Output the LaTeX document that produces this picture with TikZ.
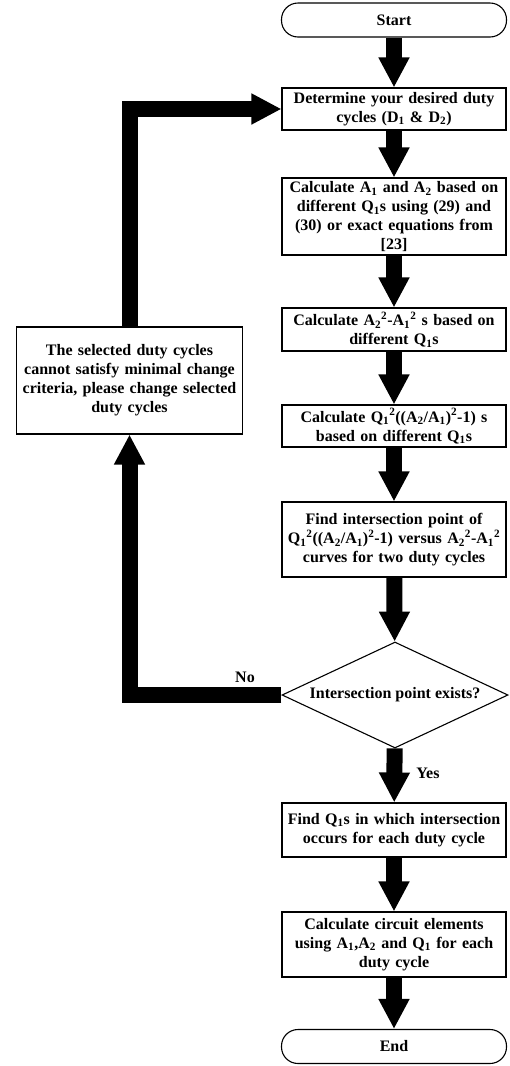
\documentclass[tikz,border=0pt]{standalone}
\usepackage{fontspec}
\setmainfont{Liberation Serif}
\usetikzlibrary{arrows.meta,shapes.geometric}
\begin{document}
\begin{tikzpicture}[x=1pt,y=-1pt,
  every node/.style={font=\bfseries\fontsize{16}{19}\selectfont},
  box/.style={draw,line width=1.1pt,minimum width=224pt,text width=222pt,align=center,inner sep=1pt},
  term/.style={draw,line width=1.1pt,rounded corners=16.5pt,minimum width=225pt,minimum height=34pt,align=center},
  bigarrow/.style={line width=16pt,line join=miter,-{Triangle[length=30pt,width=29pt]}},
  lbl/.style={inner sep=0pt}]
\useasboundingbox (0,0) rectangle (510,1066);
\node[term] (start) at (394,20) {Start};
\node[box,minimum height=42pt] (det) at (394,109) {Determine your desired duty\\cycles (D\textsubscript{1} \& D\textsubscript{2})};
\node[box,minimum height=77pt] (calc1) at (394,216.5) {Calculate A\textsubscript{1} and A\textsubscript{2} based on\\different Q\textsubscript{1}s using (29) and\\(30) or exact equations from\\{[}23{]}};
\node[box,minimum height=43pt] (calc2) at (394,329.5) {Calculate A\textsubscript{2}\textsuperscript{2}-A\textsubscript{1}\textsuperscript{2} s based on\\different Q\textsubscript{1}s};
\node[box,minimum height=42pt] (calc3) at (394,426) {Calculate Q\textsubscript{1}\textsuperscript{2}((A\textsubscript{2}/A\textsubscript{1})\textsuperscript{2}-1) s\\based on different Q\textsubscript{1}s};
\node[box,minimum height=75pt] (find1) at (394,539.5) {Find intersection point of\\Q\textsubscript{1}\textsuperscript{2}((A\textsubscript{2}/A\textsubscript{1})\textsuperscript{2}-1) versus A\textsubscript{2}\textsuperscript{2}-A\textsubscript{1}\textsuperscript{2}\\curves for two duty cycles};
\node[diamond,draw,line width=1.1pt,minimum width=226pt,minimum height=106pt,inner sep=0pt,
  label={center:Intersection point exists?}] (dia) at (395,695) {};
\node[box,minimum height=54pt] (find2) at (394,830) {Find Q\textsubscript{1}s in which intersection\\occurs for each duty cycle};
\node[box,minimum height=65pt] (calc4) at (394,944.5) {Calculate circuit elements\\using A\textsubscript{1},A\textsubscript{2} and Q\textsubscript{1} for each\\duty cycle};
\node[term] (end) at (394,1046.5) {End};
\node[box,minimum width=226pt,minimum height=107pt] (left) at (129.5,380.5) {The selected duty cycles\\cannot satisfy minimal change\\criteria, please change selected\\duty cycles};
\draw[bigarrow] (start) -- (det);
\draw[bigarrow] (det) -- (calc1);
\draw[bigarrow] (calc1) -- (calc2);
\draw[bigarrow] (calc2) -- (calc3);
\draw[bigarrow] (calc3) -- (find1);
\draw[bigarrow] (find1) -- (dia);
\draw[bigarrow] (dia) -- (find2);
\draw[bigarrow] (find2) -- (calc4);
\draw[bigarrow] (calc4) -- (end);
\draw[bigarrow] (dia.west) -| (left.south);
\draw[bigarrow] (left.north) |- (det.west);
\node[lbl] (no) at (245,677) {No};
\node[lbl] (yes) at (428,773) {Yes};
\end{tikzpicture}
\end{document}
